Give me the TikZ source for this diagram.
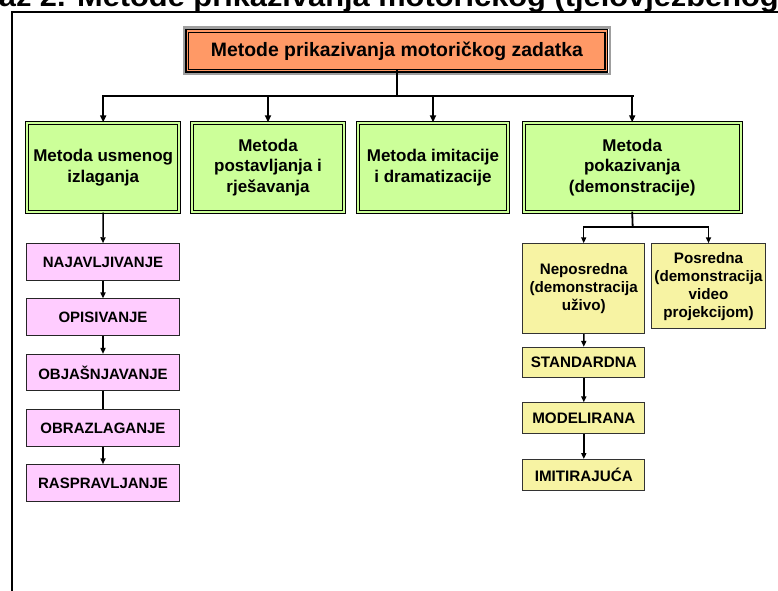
\documentclass[tikz,border=0pt]{standalone}
\usepackage{fontspec}
\setmainfont{Liberation Sans}
\usetikzlibrary{arrows.meta}
\definecolor{orangebox}{HTML}{FF9966}
\definecolor{greenbox}{HTML}{CCFF99}
\definecolor{pinkbox}{HTML}{FFCCFF}
\definecolor{yellowbox}{HTML}{F7F3A3}
\tikzset{
  topbox/.style={draw=black, line width=1.2pt, double=orangebox, double distance=1.6pt, fill=orangebox,
    inner sep=0pt, minimum width=419pt, minimum height=39.5pt, align=center,
    font=\fontsize{19.4}{22}\selectfont\bfseries},
  greenstyle/.style={draw=black, line width=1pt, double=greenbox, double distance=1.8pt, fill=greenbox,
    inner sep=0pt, minimum height=89.2pt, align=center,
    font=\fontsize{17}{20.5}\selectfont\bfseries},
  pinkstyle/.style={draw=black!85, line width=1pt, fill=pinkbox, inner sep=0pt,
    minimum width=153pt, minimum height=36.5pt, align=center,
    font=\fontsize{15}{17}\selectfont\bfseries},
  yellowstyle/.style={draw=black!80, line width=0.9pt, fill=yellowbox, inner sep=0pt,
    minimum width=122pt, align=center,
    font=\fontsize{15.2}{18}\selectfont\bfseries},
  barline/.style={line width=2.6pt, line cap=rect},
  toparr/.style={line width=1.8pt, -{Triangle[length=7pt,width=6pt]}},
  subbar/.style={line width=1.8pt, line cap=rect},
  subarr/.style={line width=1.5pt, -{Triangle[length=6pt,width=5pt]}},
  plainline/.style={line width=1.5pt},
}
\begin{document}
\begin{tikzpicture}[x=1pt,y=1pt]
\useasboundingbox (0,0) rectangle (778,-590);
\clip (0,0) rectangle (778,-590);
% title (cut off at the top and sides, as in the reference) and frame
\node[anchor=base east, inner sep=0pt, font=\fontsize{28}{30}\selectfont\bfseries] (title) at (779,-6)
  {\scalebox{1.1}[1]{az 2. Metode prikazivanja motoričkog (tjelovježbenog}};
\draw[line width=2pt] (11.5,-600) -- (11.5,-12.3) -- (790,-12.3);

% top box
\node[topbox] (top) at (396.9,-50.9) {Metode prikazivanja motoričkog zadatka};
\draw[gray!75, line width=2.2pt] ([shift={(-3.1pt,-3.1pt)}]top.south west) rectangle ([shift={(3.1pt,3.1pt)}]top.north east);

% green boxes
\node[greenstyle, minimum width=152.2pt] (g1) at (103.2,-167.4) {Metoda usmenog\\izlaganja};
\node[greenstyle, minimum width=151.6pt] (g2) at (268,-167.4) {Metoda\\postavljanja i\\rješavanja};
\node[greenstyle, minimum width=150.2pt] (g3) at (433,-167.4) {Metoda imitacije\\i dramatizacije};
\node[greenstyle, minimum width=217.2pt] (g4) at (632.2,-167.4) {Metoda\\pokazivanja\\(demonstracije)};

% top connectors
\coordinate (j) at (396.9,-96);
\draw[barline] (top.south) -- (j);
\draw[barline] (g1.north |- j) -- (g4.north |- j);
\draw[toparr] (g1.north |- j) -- (g1.north);
\draw[toparr] (g2.north |- j) -- (g2.north);
\draw[toparr] (g3.north |- j) -- (g3.north);
\draw[toparr] (g4.north |- j) -- (g4.north);

% pink column
\node[pinkstyle] (p1) at (103,-262) {NAJAVLJIVANJE};
\node[pinkstyle] (p2) at (103,-317.2) {OPISIVANJE};
\node[pinkstyle] (p3) at (103,-372.7) {OBJAŠNJAVANJE};
\node[pinkstyle] (p4) at (103,-428) {OBRAZLAGANJE};
\node[pinkstyle] (p5) at (103,-483) {RASPRAVLJANJE};
\draw[subarr] (g1.south) -- (p1.north);
\draw[subarr] (p1) -- (p2);
\draw[subarr] (p2) -- (p3);
\draw[plainline] (p3) -- (p4);
\draw[subarr] (p4) -- (p5);

% yellow boxes
\node[yellowstyle, minimum height=90pt] (nep) at (583.7,-288.7) {Neposredna\\(demonstracija\\uživo)};
\node[yellowstyle, minimum width=114pt, minimum height=85pt] (pos) at (708.5,-286.2) {Posredna\\(demonstracija\\video\\projekcijom)};
\node[yellowstyle, minimum height=30pt] (y1) at (583.8,-362.3) {STANDARDNA};
\node[yellowstyle, minimum height=31pt] (y2) at (583.8,-418.3) {MODELIRANA};
\node[yellowstyle, minimum height=31pt] (y3) at (583.8,-475) {IMITIRAJUĆA};

\coordinate (j2) at (632.7,-227);
\draw[subbar] (g4.south) -- (j2);
\draw[subbar] (nep.north |- j2) -- (pos.north |- j2);
\draw[subarr] (nep.north |- j2) -- (nep.north);
\draw[subarr] (pos.north |- j2) -- (pos.north);
\draw[subarr] (nep) -- (y1);
\draw[subarr] (y1) -- (y2);
\draw[subarr] (y2) -- (y3);
\end{tikzpicture}
\end{document}
